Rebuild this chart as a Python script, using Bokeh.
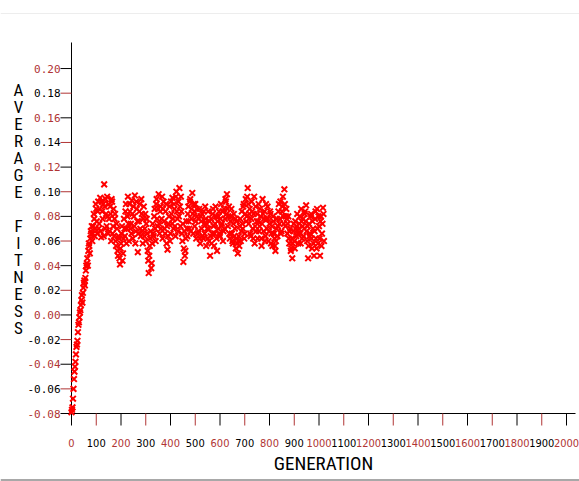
from bokeh.plotting import figure
from bokeh.models import Range1d
from bokeh.core.properties import value
from bokeh.embed import file_html
from bokeh.resources import INLINE

# ---- data ----
# generations 0, 4, 8, ... 1020
generation_a = list(range(0, 1021, 4))
avg_fitness_a = [
    -0.079, -0.075, -0.060, -0.046, -0.038, -0.026, -0.021, -0.008, -0.002, 0.004,
    0.012, 0.010, 0.022, 0.028, 0.030, 0.040, 0.046, 0.052, 0.056, 0.062,
    0.066, 0.060, 0.072, 0.078, 0.070, 0.086, 0.066, 0.092,
    0.074, 0.095, 0.063, 0.084, 0.090, 0.106, 0.070, 0.082, 0.096, 0.066,
    0.078, 0.088, 0.060, 0.092, 0.072, 0.064, 0.082, 0.056, 0.070, 0.048,
    0.062, 0.041, 0.058, 0.072, 0.050, 0.078, 0.064, 0.090, 0.070, 0.096,
    0.060, 0.084, 0.074, 0.093, 0.062, 0.080, 0.097, 0.068, 0.086, 0.051,
    0.076, 0.090, 0.064, 0.082, 0.058, 0.088, 0.070, 0.060, 0.078, 0.052,
    0.034, 0.056, 0.068, 0.042, 0.074, 0.064, 0.086, 0.060, 0.094, 0.072,
    0.098, 0.066, 0.088, 0.078, 0.062, 0.092, 0.070, 0.084, 0.058, 0.053,
    0.074, 0.088, 0.066, 0.082, 0.095, 0.070, 0.086, 0.064, 0.100, 0.078,
    0.092, 0.103, 0.072, 0.084, 0.060, 0.043, 0.068, 0.052, 0.076, 0.064,
    0.088, 0.070, 0.094, 0.078, 0.099, 0.066, 0.084, 0.090, 0.062, 0.080,
    0.068, 0.086, 0.058, 0.076, 0.082, 0.062, 0.074, 0.088, 0.056, 0.070,
    0.084, 0.060, 0.048, 0.078, 0.066, 0.086, 0.056, 0.074, 0.080, 0.052,
    0.070, 0.084, 0.064, 0.090, 0.074, 0.060, 0.086, 0.078, 0.092, 0.098,
    0.072, 0.088, 0.062, 0.080, 0.066, 0.058, 0.082, 0.070, 0.054, 0.076,
    0.050, 0.064, 0.072, 0.060, 0.084, 0.070, 0.090, 0.066, 0.094, 0.080,
    0.103, 0.074, 0.086, 0.064, 0.092, 0.070, 0.082, 0.058, 0.088, 0.076,
    0.062, 0.090, 0.072, 0.080, 0.056, 0.094, 0.068, 0.084, 0.064, 0.078,
    0.088, 0.060, 0.074, 0.082, 0.066, 0.056, 0.076, 0.062, 0.052, 0.070,
    0.064, 0.084, 0.074, 0.092, 0.068, 0.088, 0.080, 0.102, 0.072, 0.086,
    0.066, 0.080, 0.058, 0.070, 0.054, 0.046, 0.068, 0.060, 0.076, 0.064,
    0.082, 0.058, 0.074, 0.066, 0.086, 0.062, 0.078, 0.070, 0.084, 0.089,
    0.060, 0.046, 0.074, 0.066, 0.082, 0.054, 0.070, 0.048, 0.078, 0.062,
    0.086, 0.058, 0.072, 0.048, 0.080, 0.066, 0.087, 0.060,
]
# generations 2, 6, 10, ... 1018
generation_b = list(range(2, 1019, 4))
avg_fitness_b = [
    -0.077, -0.068, -0.052, -0.042, -0.032, -0.024, -0.014, -0.006, 0.002, 0.008,
    0.016, 0.018, 0.026, 0.024, 0.036, 0.042, 0.040, 0.058, 0.050, 0.068,
    0.072, 0.066, 0.082, 0.064, 0.090, 0.076, 0.084, 0.070,
    0.086, 0.068, 0.092, 0.078, 0.064, 0.088, 0.094, 0.072, 0.080, 0.090,
    0.068, 0.082, 0.094, 0.066, 0.086, 0.078, 0.060, 0.074, 0.052, 0.064,
    0.046, 0.054, 0.066, 0.044, 0.062, 0.070, 0.084, 0.058, 0.080, 0.074,
    0.090, 0.070, 0.066, 0.082, 0.088, 0.072, 0.058, 0.092, 0.076, 0.066,
    0.084, 0.070, 0.094, 0.068, 0.078, 0.064, 0.082, 0.074, 0.066, 0.044,
    0.048, 0.062, 0.038, 0.058, 0.066, 0.080, 0.070, 0.090, 0.078, 0.086,
    0.074, 0.084, 0.070, 0.096, 0.086, 0.076, 0.066, 0.090, 0.072, 0.064,
    0.080, 0.060, 0.092, 0.074, 0.078, 0.090, 0.072, 0.096, 0.084, 0.068,
    0.080, 0.088, 0.096, 0.066, 0.074, 0.054, 0.048, 0.062, 0.070, 0.082,
    0.076, 0.092, 0.068, 0.086, 0.082, 0.090, 0.072, 0.076, 0.086, 0.066,
    0.078, 0.062, 0.080, 0.070, 0.064, 0.084, 0.066, 0.078, 0.074, 0.062,
    0.070, 0.076, 0.064, 0.058, 0.082, 0.072, 0.066, 0.088, 0.062, 0.076,
    0.080, 0.066, 0.078, 0.072, 0.084, 0.068, 0.070, 0.094, 0.082, 0.086,
    0.080, 0.066, 0.076, 0.086, 0.060, 0.074, 0.064, 0.078, 0.062, 0.058,
    0.060, 0.056, 0.078, 0.068, 0.074, 0.088, 0.062, 0.082, 0.076, 0.096,
    0.090, 0.082, 0.066, 0.078, 0.084, 0.062, 0.096, 0.072, 0.068, 0.082,
    0.076, 0.068, 0.086, 0.062, 0.074, 0.082, 0.078, 0.060, 0.090, 0.070,
    0.078, 0.068, 0.084, 0.058, 0.072, 0.080, 0.066, 0.056, 0.060, 0.078,
    0.072, 0.090, 0.078, 0.066, 0.084, 0.096, 0.074, 0.090, 0.080, 0.078,
    0.074, 0.062, 0.068, 0.052, 0.062, 0.058, 0.074, 0.054, 0.070, 0.072,
    0.066, 0.070, 0.080, 0.058, 0.076, 0.072, 0.064, 0.082, 0.076, 0.068,
    0.072, 0.056, 0.064, 0.080, 0.062, 0.076, 0.058, 0.068, 0.084, 0.054,
    0.070, 0.080, 0.062, 0.076, 0.056, 0.074, 0.082,
]

x_ticks = list(range(0, 2001, 100))
x_tick_labels = [str(v) for v in x_ticks]
y_ticks = [0.20, 0.18, 0.16, 0.14, 0.12, 0.10, 0.08, 0.06, 0.04, 0.02,
           0.00, -0.02, -0.04, -0.06, -0.08]
y_tick_labels = ["0.20", "0.18", "0.16", "0.14", "0.12", "0.10", "0.08", "0.06",
                 "0.04", "0.02", "0.00", "-0.02", "-0.04", "-0.06", "-0.08"]
x_title = "GENERATION"
y_title = "AVERAGE FITNESS"

RED = "#b03434"
DATA_RED = "#ff0000"

W, H = 579, 481
X0_PX, PX_PER_GEN = 71.0, 0.2475          # generation 0 at x=71
Y0_PX, PX_PER_UNIT = 413.0, 1232.0        # fitness -0.08 at y=413
Y_BASE = -0.08


def gx(px):
    return (px - X0_PX) / PX_PER_GEN


def gy(py):
    return Y_BASE + (Y0_PX - py) / PX_PER_UNIT


p = figure(width=W, height=H, output_backend="svg", toolbar_location=None,
           x_range=Range1d(gx(0), gx(W)), y_range=Range1d(gy(H), gy(0)),
           x_axis_location=None, y_axis_location=None,
           min_border=0, min_border_left=0, min_border_right=0,
           min_border_top=0, min_border_bottom=0,
           background_fill_color="white", border_fill_color="white")
p.outline_line_color = None
p.grid.visible = False

# page decoration lines (top faint rule, bottom grey rule)
p.segment(x0=[gx(0)], y0=[gy(13)], x1=[gx(W)], y1=[gy(13)], line_color="#ededed", line_width=1)
p.segment(x0=[gx(0)], y0=[gy(479.5)], x1=[gx(W)], y1=[gy(479.5)], line_color="#a8a8a8", line_width=2)

# axis lines
p.segment(x0=[0, 0], y0=[Y_BASE, Y_BASE], x1=[0, gx(575)], y1=[gy(42), Y_BASE],
          line_color="black", line_width=1)

# tick marks (alternating colours)
tdy = 12 / PX_PER_UNIT
tdx = 11 / PX_PER_GEN
p.segment(x0=x_ticks, y0=[Y_BASE] * len(x_ticks), x1=x_ticks,
          y1=[Y_BASE - tdy] * len(x_ticks),
          line_color=["black" if i % 2 == 0 else RED for i in range(len(x_ticks))],
          line_width=1)
p.segment(x0=[0] * len(y_ticks), y0=y_ticks, x1=[-tdx] * len(y_ticks), y1=y_ticks,
          line_color=["black" if i % 2 == 0 else RED for i in range(len(y_ticks))],
          line_width=1)

# tick labels (alternating colours)
p.text(x=x_ticks, y=[gy(442)] * len(x_ticks), text=x_tick_labels,
       text_color=[RED if i % 2 == 0 else "black" for i in range(len(x_ticks))],
       text_align="center", text_baseline="middle",
       text_font=value("DejaVu Sans Condensed"), text_font_size="11px")
p.text(x=[gx(60)] * len(y_ticks), y=y_ticks, text=y_tick_labels,
       text_color=[RED if i % 2 == 0 else "black" for i in range(len(y_ticks))],
       text_align="right", text_baseline="middle",
       text_font=value("DejaVu Sans Mono"), text_font_size="11px")

# axis titles
p.text(x=[gx(323)], y=[gy(463)], text=[x_title], text_color="black",
       text_align="center", text_baseline="middle",
       text_font=value("Roboto Condensed"), text_font_size="19px")
p.text(x=[gx(18)], y=[gy(79)], text=["\n".join(y_title)], text_color="black",
       text_align="center", text_baseline="top",
       text_font=value("Roboto Condensed"), text_font_size="17px",
       text_line_height=0.85)

# data
p.scatter(generation_a, avg_fitness_a, marker="x", size=8, line_color=DATA_RED,
          line_width=2)
p.scatter(generation_b, avg_fitness_b, marker="x", size=8, line_color=DATA_RED,
          line_width=2)

open("out.html", "w").write(file_html(p, INLINE))
